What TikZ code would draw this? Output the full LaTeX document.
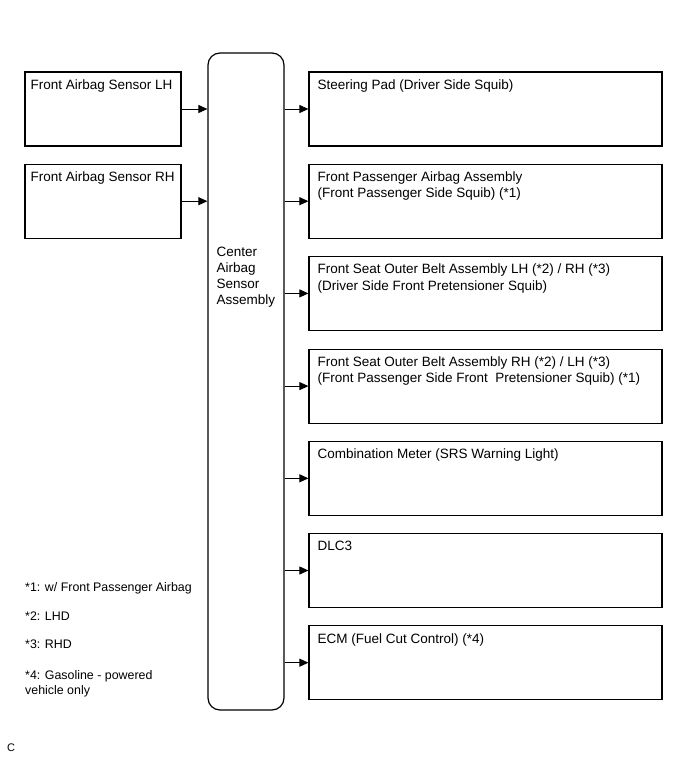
\documentclass[tikz,border=0pt]{standalone}
\usepackage{fontspec}
\setmainfont{Liberation Sans}
\usetikzlibrary{positioning, arrows.meta}
\tikzstyle{inbox} = [rectangle, minimum width=156pt, minimum height=74pt, draw=black, line width=1.2pt, inner sep=0pt]
\tikzstyle{outbox} = [rectangle, minimum width=353pt, minimum height=74pt, draw=black, line width=1.2pt, inner sep=0pt]
\tikzstyle{ecu} = [rectangle, rounded corners=12pt, minimum width=76pt, minimum height=657pt, draw=black, line width=1.2pt, inner sep=0pt]
\tikzstyle{lbl} = [anchor=north west, align=left, inner xsep=6pt, inner ysep=8pt, font=\fontsize{13.5}{16.3}\selectfont]
\tikzstyle{outlbl} = [lbl, inner xsep=9pt]
\tikzstyle{note} = [anchor=west, align=left, inner sep=0pt, font=\fontsize{12.4}{15}\selectfont]
\tikzstyle{arrow} = [line width=0.9pt, -{Triangle[length=9pt,width=8pt]}]

\begin{document}
\begin{tikzpicture}[x=1pt, y=-1pt]
\useasboundingbox (0,0) rectangle (691,759);

\node (ctr) [ecu, label={[lbl, yshift=-186pt, xshift=3pt]north west:Center\\Airbag\\Sensor\\Assembly}] at (246,381.5) {};

\node (lh) [inbox, label={[lbl]north west:Front Airbag Sensor LH}] at (103,109) {};
\node (rh) [inbox, below=17pt of lh, label={[lbl]north west:Front Airbag Sensor RH}] {};

\node (pad) [outbox, label={[outlbl]north west:Steering Pad (Driver Side Squib)}] at (485.5,109) {};
\node (pab) [outbox, below=17pt of pad, label={[outlbl]north west:Front Passenger Airbag Assembly\\(Front Passenger Side Squib) (*1)}] {};
\node (drbelt) [outbox, below=17pt of pab, label={[outlbl]north west:Front Seat Outer Belt Assembly LH (*2) / RH (*3)\\(Driver Side Front Pretensioner Squib)}] {};
\node (pabelt) [outbox, below=17.5pt of drbelt, label={[outlbl]north west:Front Seat Outer Belt Assembly RH (*2) / LH (*3)\\(Front Passenger Side Front\ \ Pretensioner Squib) (*1)}] {};
\node (meter) [outbox, below=17pt of pabelt, label={[outlbl]north west:Combination Meter (SRS Warning Light)}] {};
\node (dlc) [outbox, below=17pt of meter, label={[outlbl]north west:DLC3}] {};
\node (ecm) [outbox, below=17pt of dlc, label={[outlbl]north west:ECM (Fuel Cut Control) (*4)}] {};

% inputs
\draw [arrow] (lh.east) -- (lh.east -| ctr.west);
\draw [arrow] (rh.east) -- (rh.east -| ctr.west);

% outputs
\foreach \n in {pad, pab, drbelt, pabelt, meter, dlc, ecm}
  \draw [arrow] (ctr.east |- \n.west) -- (\n.west);

% notes
\node (n1) [note] at (25,588) {*1: w/ Front Passenger Airbag};
\node (n2) [note] at (25,616) {*2: LHD};
\node (n3) [note] at (25,644) {*3: RHD};
\node (n4) [note, anchor=north west] at (25,670) {*4: Gasoline - powered\\vehicle only};
\node (c) [note, font=\fontsize{11}{13}\selectfont] at (7,748) {C};
\end{tikzpicture}
\end{document}
